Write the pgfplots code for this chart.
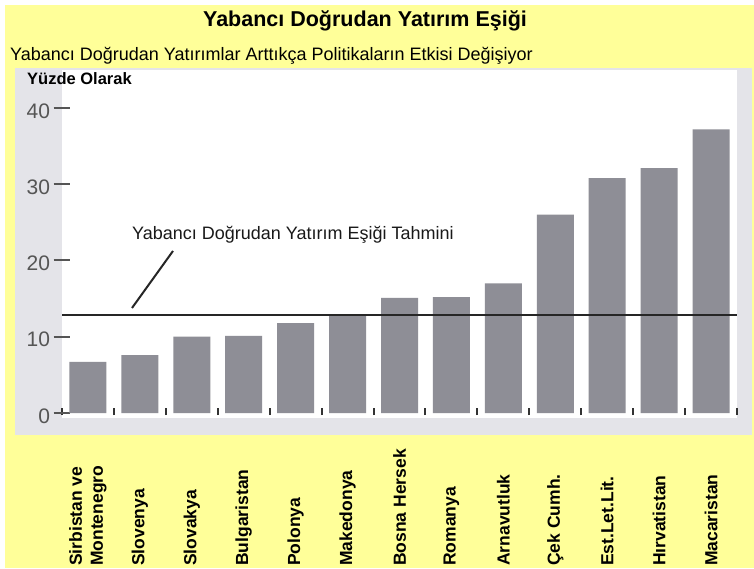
\documentclass[border=0pt]{standalone}
\usepackage{pgfplots}
\pgfplotsset{compat=1.18}
\usepackage{fontspec}
\setmainfont{Liberation Sans}
\definecolor{bgyellow}{HTML}{FFFF99}
\definecolor{scangrey}{HTML}{E4E4E9}
\definecolor{bargrey}{HTML}{8E8E96}
\definecolor{tickgrey}{HTML}{555555}
\begin{document}
\begin{tikzpicture}[x=1pt,y=1pt]
\useasboundingbox (0,0) rectangle (754,568);
\fill[white] (0,0) rectangle (754,568);
\fill[bgyellow] (5,0) rectangle (754,563);
\fill[scangrey] (15,133) rectangle (752,500);
\fill[white] (62,150) rectangle (737,498);
\node[anchor=base, inner sep=0pt, font=\bfseries\fontsize{21.5}{24}\selectfont] at (365,541) {Yabancı Doğrudan Yatırım Eşiği};
\node[anchor=base west, inner sep=0pt, font=\fontsize{18}{20}\selectfont] at (10,507) {Yabancı Doğrudan Yatırımlar Arttıkça Politikaların Etkisi Değişiyor};
\node[anchor=base west, inner sep=0pt, font=\bfseries\fontsize{16.5}{18}\selectfont] at (27,483) {Yüzde Olarak};
\begin{axis}[
  at={(62pt,153pt)}, anchor=south west,
  width=675pt, height=345pt, scale only axis,
  xmin=-0.5, xmax=12.5, ymin=-0.262, ymax=44.98,
  axis x line*=bottom, axis y line*=left, axis line style={draw=none},
  ytick={0,10,20,30,40}, ytick align=center, major tick length=17pt,
  ytick style={tickgrey, line width=2pt},
  yticklabel style={font=\fontsize{21}{21}\selectfont, text=tickgrey, yshift=-3pt},
  /pgf/number format/assume math mode=true,
  xtick={0,...,12},
  xticklabels={{Sirbistan ve\\Montenegro},Slovenya,Slovakya,Bulgaristan,Polonya,Makedonya,Bosna Hersek,Romanya,Arnavutluk,Çek Cumh.,Est.Let.Lit.,Hırvatistan,Macaristan},
  major x tick style={draw=none},
  minor xtick={-0.5,0.5,...,12.5}, minor tick length=7pt, xtick align=inside,
  minor x tick style={black!80, line width=2pt},
  xticklabel style={rotate=90, anchor=west, inner sep=0pt, align=left, font=\bfseries\fontsize{17.5}{21}\selectfont},
  xticklabel shift=151pt,
]
\addplot[ybar, bar width=37pt, fill=bargrey, draw=none] coordinates {
  (0,6.7) (1,7.6) (2,10.0) (3,10.1) (4,11.8) (5,12.8) (6,15.1)
  (7,15.2) (8,17.0) (9,26.0) (10,30.8) (11,32.1) (12,37.2)};
\addplot[black!85, line width=2pt] coordinates {(-0.5,12.8) (12.5,12.8)};
\draw[black!85, line width=2pt] (axis cs:0.848,13.77) -- (axis cs:1.638,21.25);
\node[anchor=base west, inner sep=0pt, text=black!90, font=\fontsize{18}{20}\selectfont] at (axis cs:0.848,22.8) {Yabancı Doğrudan Yatırım Eşiği Tahmini};
\end{axis}
\end{tikzpicture}
\end{document}
